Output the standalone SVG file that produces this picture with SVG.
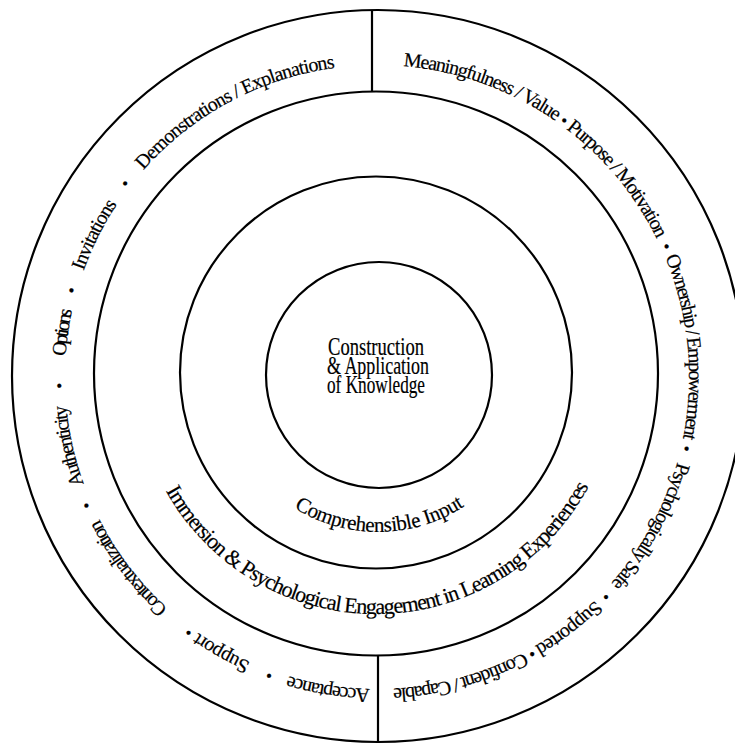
<svg xmlns="http://www.w3.org/2000/svg" width="735" height="747" viewBox="0 0 735 747">
<defs>
<style>
.ring{fill:none;stroke:#000;stroke-width:2.2}
.div{stroke:#000;stroke-width:2.2}
.t{font-family:"Liberation Serif","Times New Roman",serif;fill:#000;stroke:#000;stroke-width:0.2}
.o{font-size:20px}
.m{font-size:22px}
.ci{font-size:21px}
.c{font-size:25px}
.b{font-size:17px}
</style>
<path id="pOuter" d="M 377 689 A 312 312 0 1 1 377 65 A 312 312 0 1 1 377 689"/>
<path id="pMid" d="M 135 373 A 241 241 0 0 0 617 373"/>
<path id="pIn" d="M 220 374 A 158 158 0 0 0 536 374"/>
</defs>
<rect width="735" height="747" fill="#fff"/>

<g id="outer-ring">
<circle class="ring" cx="378" cy="376" r="366"/>
<circle class="ring" cx="376" cy="373.5" r="282"/>
<line class="div" x1="372" y1="10" x2="372" y2="92"/>
<line class="div" x1="378" y1="655" x2="378" y2="742"/>
<g class="t o" text-anchor="middle">
<text><textPath href="#pOuter" startOffset="48.5" textLength="83" lengthAdjust="spacing">Acceptance</textPath></text>
<text><textPath href="#pOuter" startOffset="160.3" textLength="60" lengthAdjust="spacing">Support</textPath></text>
<text><textPath href="#pOuter" startOffset="285.8" textLength="113" lengthAdjust="spacing">Contextualization</textPath></text>
<text><textPath href="#pOuter" startOffset="421.2" textLength="81" lengthAdjust="spacing">Authenticity</textPath></text>
<text><textPath href="#pOuter" startOffset="534.2" textLength="47" lengthAdjust="spacing">Options</textPath></text>
<text><textPath href="#pOuter" startOffset="635.7" textLength="75" lengthAdjust="spacing">Invitations</textPath></text>
<text><textPath href="#pOuter" startOffset="826.9" textLength="222" lengthAdjust="spacing">Demonstrations / Explanations</textPath></text>
<text><textPath href="#pOuter" startOffset="1088.3" textLength="164" lengthAdjust="spacing">Meaningfulness / Value</textPath></text>
<text><textPath href="#pOuter" startOffset="1255" textLength="144" lengthAdjust="spacing">Purpose / Motivation</textPath></text>
<text><textPath href="#pOuter" startOffset="1439.5" textLength="185" lengthAdjust="spacing">Ownership / Empowerment</textPath></text>
<text><textPath href="#pOuter" startOffset="1626" textLength="140" lengthAdjust="spacing">Psychologically Safe</textPath></text>
<text><textPath href="#pOuter" startOffset="1756.7" textLength="76" lengthAdjust="spacing">Supported</textPath></text>
<text><textPath href="#pOuter" startOffset="1875.6" textLength="137" lengthAdjust="spacing">Confident / Capable</textPath></text>
</g>
<g class="t b" text-anchor="middle">
<text><textPath href="#pOuter" startOffset="108.3">•</textPath></text>
<text><textPath href="#pOuter" startOffset="198.2">•</textPath></text>
<text><textPath href="#pOuter" startOffset="360">•</textPath></text>
<text><textPath href="#pOuter" startOffset="481.4">•</textPath></text>
<text><textPath href="#pOuter" startOffset="576.1">•</textPath></text>
<text><textPath href="#pOuter" startOffset="694.3">•</textPath></text>
<text><textPath href="#pOuter" startOffset="1176.7">•</textPath></text>
<text><textPath href="#pOuter" startOffset="1337.9">•</textPath></text>
<text><textPath href="#pOuter" startOffset="1541">•</textPath></text>
<text><textPath href="#pOuter" startOffset="1708.8">•</textPath></text>
<text><textPath href="#pOuter" startOffset="1800.8">•</textPath></text>
</g>
</g>

<g id="middle-ring">
<circle class="ring" cx="376" cy="372.5" r="196"/>
<text class="t m" text-anchor="middle"><textPath href="#pMid" startOffset="381" textLength="516" lengthAdjust="spacing">Immersion &amp; Psychological Engagement in Learning Experiences</textPath></text>
</g>

<g id="inner-ring">
<circle class="ring" cx="379" cy="375" r="113"/>
<text class="t ci" text-anchor="middle"><textPath href="#pIn" startOffset="249.6" textLength="180" lengthAdjust="spacing">Comprehensible Input</textPath></text>
</g>

<g id="core" class="t c" text-anchor="middle">
<text x="376" y="355" textLength="96" lengthAdjust="spacingAndGlyphs">Construction</text>
<text x="378" y="374" textLength="102" lengthAdjust="spacingAndGlyphs">&amp; Application</text>
<text x="376" y="393" textLength="98" lengthAdjust="spacingAndGlyphs">of Knowledge</text>
</g>
</svg>
